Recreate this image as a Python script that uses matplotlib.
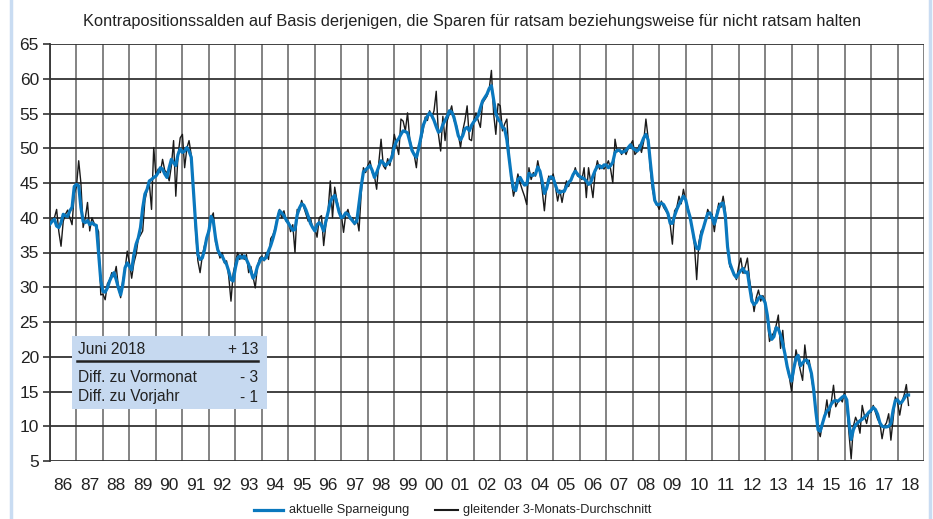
import numpy as np
import matplotlib
matplotlib.use("Agg")
import matplotlib.pyplot as plt
from matplotlib.lines import Line2D
from matplotlib.patches import Rectangle

W, H, DPI = 933, 519, 100

TITLE = ("Kontrapositionssalden auf Basis derjenigen, die Sparen für ratsam "
         "beziehungsweise für nicht ratsam halten")
LABEL_BLUE  = "aktuelle Sparneigung"
LABEL_BLACK = "gleitender 3-Monats-Durchschnitt"

YEARS = list(range(1986, 2019))
YEAR_LABELS = [f"{y % 100:02d}" for y in YEARS]
Y_TICKS = list(range(5, 70, 5))

# monthly values, Jan 1986 .. Jun 2018
blue_vals = [
    39.1, 39.5, 39.8, 38.8, 38.6, 39.3, 40.5, 40.3, 40.2, 41.0, 41.5, 44.5,  # 86
    44.8, 44.6, 41.5, 39.5, 39.3, 39.6, 39.0, 39.3, 39.0, 38.9, 35.0, 31.0,  # 87
    29.4, 29.3, 29.9, 30.9, 31.6, 32.1, 31.1, 29.9, 28.9, 30.4, 32.8, 33.5,  # 88
    33.0, 32.5, 34.7, 36.2, 37.1, 38.6, 41.4, 43.4, 44.1, 45.3, 45.5, 45.8,  # 89
    46.0, 46.5, 47.2, 47.0, 46.3, 45.8, 47.2, 48.4, 47.9, 47.5, 49.1, 49.9,  # 90
    49.4, 49.6, 50.1, 49.6, 48.7, 43.8, 39.0, 34.7, 34.0, 34.2, 35.4, 37.1,  # 91
    38.1, 40.2, 39.5, 37.1, 35.4, 34.7, 34.5, 33.8, 33.3, 32.3, 31.1, 30.9,  # 92
    32.8, 34.2, 34.5, 34.2, 34.5, 34.0, 33.3, 32.3, 31.3, 31.8, 33.0, 33.7,  # 93
    34.2, 34.0, 34.3, 35.2, 36.0, 37.0, 38.2, 39.8, 41.0, 40.7, 40.3, 39.7,  # 94
    39.2, 38.7, 38.2, 38.3, 40.4, 41.4, 42.0, 41.8, 41.1, 40.2, 39.2, 38.6,  # 95
    38.1, 39.0, 39.3, 38.9, 38.1, 39.5, 40.8, 42.3, 42.9, 43.2, 42.1, 40.8,  # 96
    40.0, 40.2, 40.7, 40.5, 40.0, 39.6, 39.2, 39.5, 42.0, 44.5, 46.6, 46.9,  # 97
    47.2, 47.5, 46.8, 45.8, 46.5, 47.4, 48.2, 47.9, 47.5, 47.8, 48.1, 48.8,  # 98
    50.2, 51.0, 51.4, 52.0, 52.5, 52.4, 52.2, 51.0, 49.7, 49.1, 48.7, 49.9,  # 99
    51.5, 53.2, 54.0, 54.6, 55.1, 54.7, 54.0, 53.1, 52.3, 52.5, 53.4, 54.0,  # 00
    54.6, 55.4, 55.2, 54.5, 53.2, 51.8, 51.2, 51.8, 52.8, 53.0, 52.5, 53.3,  # 01
    53.8, 54.2, 54.7, 55.8, 56.8, 57.3, 57.8, 58.6, 59.0, 57.0, 55.0, 54.2,  # 02
    53.8, 53.0, 52.8, 51.2, 48.6, 46.0, 44.2, 43.9, 45.5, 45.8, 45.2, 44.7,  # 03
    44.8, 46.4, 46.1, 46.1, 46.3, 47.3, 46.7, 45.2, 43.5, 44.2, 45.5, 45.9,  # 04
    45.7, 44.7, 43.8, 43.6, 43.8, 43.8, 44.5, 45.1, 45.4, 46.2, 46.7, 46.3,  # 05
    45.9, 45.8, 45.6, 45.3, 44.8, 45.1, 46.0, 46.8, 47.4, 47.5, 47.2, 47.6,  # 06
    47.6, 47.2, 47.5, 48.0, 49.4, 49.7, 49.7, 49.4, 49.5, 49.7, 50.1, 50.5,  # 07
    50.0, 49.8, 49.6, 49.9, 50.7, 51.5, 52.0, 51.2, 48.0, 45.0, 42.5, 41.9,  # 08
    41.9, 42.1, 41.9, 41.3, 40.6, 39.2, 39.2, 40.3, 41.2, 41.9, 42.5, 43.1,  # 09
    42.6, 41.2, 40.1, 38.4, 36.7, 35.6, 35.5, 37.4, 38.5, 39.6, 40.6, 40.7,  # 10
    40.0, 39.1, 40.2, 41.4, 42.0, 42.1, 40.2, 35.8, 33.5, 32.6, 31.8, 31.4,  # 11
    32.0, 32.4, 32.7, 32.1, 32.2, 30.0, 28.0, 27.5, 27.8, 28.4, 28.7, 28.4,  # 12
    27.8, 26.0, 23.5, 22.5, 22.9, 24.2, 24.0, 23.1, 21.9, 20.4, 18.6, 17.3,  # 13
    16.5, 18.3, 19.8, 20.2, 18.7, 19.1, 19.5, 19.5, 18.8, 17.6, 15.3, 12.1,  # 14
    9.5, 9.3, 10.4, 11.5, 12.2, 12.5, 13.2, 13.6, 13.7, 13.6, 13.9, 14.2,    # 15
    14.4, 13.8, 10.5, 8.1, 9.5, 10.2, 10.5, 10.8, 11.0, 11.3, 11.6, 12.0,    # 16
    12.3, 12.7, 12.4, 11.7, 10.5, 10.0, 9.9, 9.9, 10.0, 10.4, 12.3, 13.7,    # 17
    13.8, 13.3, 13.5, 14.0, 14.5, 14.5,                                      # 18
]

black_vals = [
    39.0, 39.8, 40.0, 41.2, 38.0, 35.9, 39.5, 40.5, 41.1, 40.0, 39.0, 43.5,  # 86
    44.5, 48.2, 45.0, 38.6, 40.0, 42.2, 38.1, 40.0, 39.2, 38.8, 38.0, 28.9,  # 87
    29.0, 28.2, 30.5, 31.0, 32.1, 31.5, 33.0, 30.0, 28.5, 31.0, 32.5, 35.2,  # 88
    33.5, 31.3, 33.5, 34.7, 37.0, 37.5, 38.1, 42.5, 44.0, 45.0, 41.2, 50.1,  # 89
    46.0, 47.0, 46.5, 48.4, 46.8, 46.5, 45.3, 47.5, 51.1, 43.1, 49.0, 51.5,  # 90
    52.0, 47.2, 50.0, 51.1, 49.0, 44.0, 38.0, 33.8, 32.1, 34.5, 36.0, 37.0,  # 91
    38.5, 40.0, 40.7, 36.5, 35.5, 34.2, 35.0, 33.5, 33.8, 31.5, 28.0, 32.0,  # 92
    33.5, 35.0, 34.0, 34.8, 34.0, 34.7, 32.1, 33.0, 31.5, 29.9, 33.0, 34.2,  # 93
    34.5, 33.8, 35.0, 34.0, 37.0, 37.5, 38.5, 40.0, 41.2, 40.0, 41.0, 39.5,  # 94
    39.5, 38.0, 39.0, 35.0, 41.2, 41.0, 42.5, 41.5, 40.5, 39.5, 40.0, 38.5,  # 95
    38.5, 37.2, 40.0, 40.3, 36.0, 39.0, 41.0, 45.3, 40.0, 44.4, 42.5, 41.0,  # 96
    40.5, 37.9, 40.5, 41.2, 39.8, 40.0, 39.0, 40.0, 38.1, 43.5, 47.2, 46.5,  # 97
    47.5, 48.2, 46.5, 46.0, 44.1, 48.0, 51.3, 47.5, 47.0, 48.5, 47.5, 49.5,  # 98
    52.0, 50.5, 49.1, 54.2, 53.9, 52.5, 55.1, 51.3, 50.0, 49.1, 47.2, 50.5,  # 99
    51.0, 52.5, 54.5, 54.0, 55.4, 54.4, 55.4, 58.2, 52.0, 49.6, 54.6, 51.1,  # 00
    54.0, 55.0, 56.1, 54.0, 53.5, 52.0, 50.1, 52.5, 54.0, 56.1, 51.3, 51.1,  # 01
    54.0, 55.1, 54.0, 53.0, 56.5, 57.0, 57.5, 58.5, 61.2, 55.0, 52.0, 56.4,  # 02
    56.1, 52.5, 53.5, 54.2, 49.0, 45.5, 43.1, 44.5, 46.3, 45.0, 44.0, 43.1,  # 03
    41.9, 47.2, 45.5, 46.5, 46.0, 48.2, 46.5, 44.0, 41.0, 44.5, 46.0, 45.5,  # 04
    46.3, 44.5, 42.4, 44.0, 42.2, 44.0, 45.3, 44.5, 45.5, 46.0, 47.2, 46.0,  # 05
    46.0, 45.5, 47.2, 42.9, 47.2, 45.0, 42.9, 46.5, 48.2, 47.0, 47.5, 47.0,  # 06
    47.5, 48.2, 47.0, 45.0, 51.3, 49.5, 49.8, 49.1, 49.9, 49.1, 50.0, 50.5,  # 07
    51.1, 49.1, 49.5, 50.5, 49.4, 51.0, 54.2, 51.5, 47.0, 44.0, 42.5, 42.0,  # 08
    41.2, 42.4, 41.5, 41.0, 40.5, 39.0, 36.2, 41.0, 41.5, 43.1, 42.0, 44.1,  # 09
    42.5, 41.5, 40.0, 38.5, 36.0, 31.1, 36.5, 38.1, 38.5, 39.5, 41.2, 40.5,  # 10
    40.5, 38.0, 40.5, 42.1, 41.5, 43.1, 41.0, 36.0, 33.0, 32.5, 32.0, 31.1,  # 11
    33.0, 34.2, 32.0, 33.0, 34.2, 31.0, 29.0, 26.5, 28.5, 29.6, 28.0, 28.8,  # 12
    28.0, 25.5, 22.2, 23.0, 23.5, 24.5, 26.0, 21.2, 23.8, 20.0, 18.5, 17.0,  # 13
    15.0, 18.0, 21.0, 19.5, 18.0, 16.6, 21.7, 19.0, 19.5, 17.0, 15.0, 12.0,  # 14
    9.5, 8.5, 10.5, 11.5, 13.8, 11.3, 13.5, 15.9, 12.8, 13.5, 14.0, 13.5,    # 15
    15.0, 13.0, 9.0, 5.3, 10.0, 11.3, 10.5, 9.0, 13.0, 11.5, 10.4, 12.0,     # 16
    12.0, 13.0, 12.0, 11.0, 10.5, 8.2, 10.0, 10.5, 11.8, 8.0, 11.0, 14.2,    # 17
    13.5, 11.6, 13.5, 14.5, 16.0, 13.0,                                      # 18
]

BOX_ROWS = [("Juni 2018", "+ 13"), ("Diff. zu Vormonat", "- 3"),
            ("Diff. zu Vorjahr", "- 1")]

BLUE = "#0a78be"
BOX_BLUE = "#c6d9f0"
FRAME_BLUE = "#c9dcf2"
TXT = "#222222"
FONT = ["Liberation Sans", "DejaVu Sans"]


def fx(px):
    return px / W


def fy(py):
    # pixel from top -> figure fraction
    return 1 - py / H


t = 1986 + np.arange(len(blue_vals)) / 12.0

plt.rcParams["font.family"] = FONT
fig = plt.figure(figsize=(W / DPI, H / DPI), dpi=DPI)
fig.patch.set_facecolor("white")

ax_l, ax_r, ax_t, ax_b = 50, 924, 44, 461
ax = fig.add_axes([fx(ax_l), fy(ax_b), fx(ax_r - ax_l), (ax_b - ax_t) / H])

ax.set_xlim(1986, 2019)
ax.set_ylim(5, 65)

for yr in range(1986, 2020):
    ax.axvline(yr, color="#7a7a7a", lw=1.3, zorder=1)
for v in Y_TICKS:
    ax.axhline(v, color="#333333", lw=1.3, zorder=1)

ax.plot(t, black_vals, color="#1a1a1a", lw=1.0, zorder=3)
ax.plot(t, blue_vals, color=BLUE, lw=2.3, zorder=4, solid_joinstyle="round")

for s in ax.spines.values():
    s.set_visible(False)
ax.spines["left"].set_visible(True)
ax.spines["left"].set_color("#333333")
ax.spines["left"].set_linewidth(1.3)

ax.set_yticks(Y_TICKS)
ax.set_yticklabels([str(v) for v in Y_TICKS], fontsize=12.5, color=TXT)
ax.tick_params(axis="y", length=5, width=1.2, color="#333333", pad=3)

ax.set_xticks([y + 0.5 for y in YEARS])
ax.set_xticklabels(YEAR_LABELS, fontsize=12.5, color=TXT)
ax.tick_params(axis="x", length=0, pad=12)

fig.text(fx(472), fy(22), TITLE, ha="center", va="center",
         fontsize=11.8, color=TXT)

# info box
fig.patches.append(Rectangle((fx(72), fy(409)), fx(267 - 72), (409 - 336) / H,
                             transform=fig.transFigure, facecolor=BOX_BLUE,
                             edgecolor="none", zorder=5))
row_y = [350, 377, 397]
for (lab, val), py in zip(BOX_ROWS, row_y):
    fig.text(fx(78), fy(py), lab, ha="left", va="center", fontsize=11.2,
             color=TXT, zorder=6)
    fig.text(fx(258), fy(py), val, ha="right", va="center", fontsize=11.2,
             color=TXT, zorder=6)
fig.add_artist(Line2D([fx(77), fx(258)], [fy(361), fy(361)], color="#222222",
                      lw=1.8, transform=fig.transFigure, zorder=6))

# legend at the bottom edge
leg_y = 510
fig.add_artist(Line2D([fx(254), fx(283)], [fy(leg_y), fy(leg_y)], color=BLUE,
                      lw=2.3, transform=fig.transFigure))
fig.text(fx(289), fy(leg_y), LABEL_BLUE, ha="left", va="center",
         fontsize=9.2, color=TXT)
fig.add_artist(Line2D([fx(435), fx(458)], [fy(leg_y), fy(leg_y)],
                      color="#1a1a1a", lw=1.5, transform=fig.transFigure))
fig.text(fx(463), fy(leg_y), LABEL_BLACK, ha="left", va="center",
         fontsize=9.2, color=TXT)

# light blue frame edges
for px in (11, 930):
    fig.add_artist(Line2D([fx(px), fx(px)], [0, 1], color=FRAME_BLUE, lw=2.5,
                          transform=fig.transFigure))

fig.savefig("out.png", dpi=DPI)
